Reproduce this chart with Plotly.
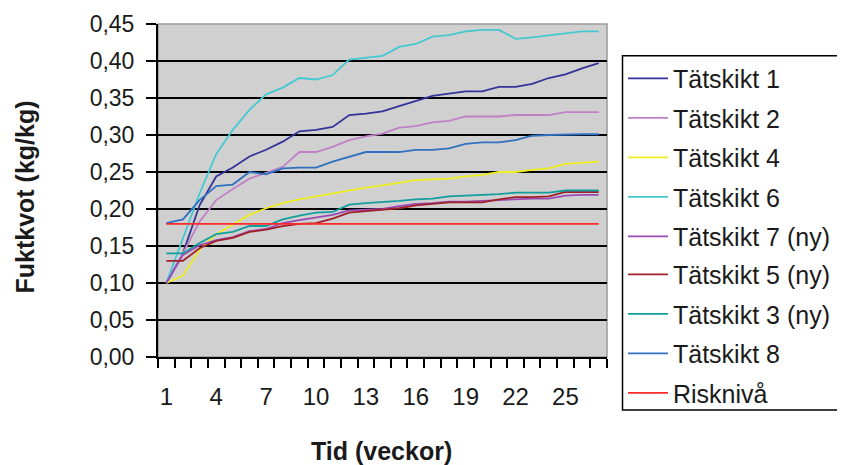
import plotly.graph_objects as go

weeks = list(range(1, 28))
tick_weeks = [1, 4, 7, 10, 13, 16, 19, 22, 25]
y_ticks = [0.00, 0.05, 0.10, 0.15, 0.20, 0.25, 0.30, 0.35, 0.40, 0.45]

t1 = [0.100, 0.140, 0.205, 0.244, 0.256, 0.271, 0.280, 0.291, 0.305, 0.307, 0.311, 0.327, 0.329, 0.332,
      0.339, 0.346, 0.353, 0.356, 0.359, 0.359, 0.365, 0.365, 0.369, 0.377, 0.382, 0.390, 0.397]
t2 = [0.100, 0.140, 0.183, 0.212, 0.227, 0.241, 0.249, 0.257, 0.277, 0.277, 0.284, 0.293, 0.298, 0.302,
      0.310, 0.312, 0.317, 0.319, 0.325, 0.325, 0.325, 0.327, 0.327, 0.327, 0.331, 0.331, 0.331]
t4 = [0.100, 0.110, 0.145, 0.166, 0.179, 0.192, 0.201, 0.208, 0.213, 0.217, 0.221, 0.226, 0.229, 0.232,
      0.236, 0.239, 0.240, 0.241, 0.244, 0.246, 0.250, 0.250, 0.253, 0.255, 0.261, 0.263, 0.264]
t6 = [0.100, 0.160, 0.221, 0.274, 0.307, 0.334, 0.355, 0.364, 0.377, 0.375, 0.381, 0.402, 0.405, 0.407,
      0.419, 0.423, 0.433, 0.435, 0.440, 0.442, 0.442, 0.430, 0.432, 0.435, 0.438, 0.440, 0.440]
t7 = [0.100, 0.138, 0.151, 0.158, 0.162, 0.170, 0.173, 0.181, 0.185, 0.189, 0.192, 0.198, 0.199, 0.200,
      0.204, 0.207, 0.208, 0.210, 0.210, 0.211, 0.213, 0.214, 0.214, 0.214, 0.218, 0.219, 0.219]
t5 = [0.130, 0.130, 0.147, 0.157, 0.161, 0.169, 0.172, 0.177, 0.180, 0.181, 0.187, 0.195, 0.197, 0.199,
      0.201, 0.205, 0.207, 0.209, 0.209, 0.209, 0.213, 0.216, 0.216, 0.217, 0.223, 0.223, 0.223]
t3 = [0.140, 0.140, 0.154, 0.166, 0.169, 0.177, 0.177, 0.186, 0.191, 0.195, 0.196, 0.206, 0.208, 0.209,
      0.211, 0.213, 0.214, 0.217, 0.218, 0.218, 0.220, 0.222, 0.222, 0.222, 0.225, 0.225, 0.225]
t8 = [0.181, 0.186, 0.212, 0.231, 0.233, 0.250, 0.247, 0.255, 0.256, 0.256, 0.264, 0.271, 0.277, 0.277,
      0.277, 0.280, 0.280, 0.282, 0.288, 0.290, 0.290, 0.293, 0.299, 0.300, 0.301, 0.301, 0.301]
risk = [0.18] * 27

series = [
    ("Tätskikt 1", t1, "#33339a"),
    ("Tätskikt 2", t2, "#c080c6"),
    ("Tätskikt 4", t4, "#eeee20"),
    ("Tätskikt 6", t6, "#44c8d2"),
    ("Tätskikt 7 (ny)", t7, "#9a4ab4"),
    ("Tätskikt 5 (ny)", t5, "#a0202a"),
    ("Tätskikt 3 (ny)", t3, "#129e9e"),
    ("Tätskikt 8", t8, "#3070c0"),
    ("Risknivå", risk, "#ff2a2a"),
]

FONT = "Liberation Sans, Arial, sans-serif"

# The page body has an 8px default margin, so the figure is drawn 8px in/down.
OFF = 8
W, H = 845 - OFF, 465 - OFF
L, R, T, B = 158 - OFF, 607 - OFF, 24 - OFF, 357 - OFF
PW, PH = R - L, B - T


def px_x(x):
    return (x - OFF - L) / PW


def px_y(y):
    return (B - (y - OFF)) / PH


fig = go.Figure()
for i, (name, vals, col) in enumerate(series):
    fig.add_trace(go.Scatter(x=weeks, y=vals, mode="lines", name=name,
                             legendgroup=f"g{i}",
                             legend="legend" if i < 5 else "legend2",
                             line=dict(color=col, width=1.8)))

leg_common = dict(
    xanchor="left", yanchor="top",
    bgcolor="rgba(0,0,0,0)", borderwidth=0,
    font=dict(family=FONT, size=25, color="#1a1a1a"),
    traceorder="grouped", tracegroupgap=4, itemwidth=40,
)
item_step = 39.2
first_center = 78.3
top_pad = 22.75

fig.update_layout(
    width=W, height=H,
    margin=dict(l=L, r=W - R, t=T, b=H - B, pad=0, autoexpand=False),
    paper_bgcolor="white",
    plot_bgcolor="#d0d0d0",
    separators=",.",
    font=dict(family=FONT, color="#1a1a1a"),
    showlegend=True,
    legend=dict(x=px_x(623), y=px_y(first_center - top_pad), **leg_common),
    legend2=dict(x=px_x(623), y=px_y(first_center + 5 * item_step - top_pad), **leg_common),
    xaxis=dict(
        range=[0.5, 27.5],
        tickmode="array", tickvals=tick_weeks, ticktext=[str(t) for t in tick_weeks],
        ticks="", ticklabelstandoff=17,
        tickfont=dict(family=FONT, size=24, color="#1a1a1a"),
        showgrid=False, zeroline=False,
        showline=True, linecolor="black", linewidth=2,
        minor=dict(tickmode="linear", tick0=0.5, dtick=1, ticks="outside",
                   ticklen=9, tickcolor="black", tickwidth=1.5, showgrid=False),
        fixedrange=True,
    ),
    yaxis=dict(
        range=[0, 0.45],
        tickmode="array", tickvals=y_ticks, tickformat=".2f",
        ticks="outside", ticklen=10, tickcolor="black", tickwidth=1.5,
        ticklabelstandoff=7,
        tickfont=dict(family=FONT, size=23, color="#1a1a1a"),
        showgrid=False, zeroline=False,
        showline=True, linecolor="black", linewidth=2,
        minor=dict(tickmode="array", tickvals=y_ticks[1:-1], ticks="",
                   showgrid=True, gridcolor="black", gridwidth=2),
        fixedrange=True,
    ),
    shapes=[
        dict(type="rect", xref="paper", yref="paper", x0=0, x1=1, y0=0, y1=1,
             line=dict(color="#9a9a9a", width=1.5), layer="below"),
        dict(type="rect", xref="paper", yref="paper",
             x0=px_x(622.5), x1=px_x(870), y0=px_y(410), y1=px_y(55.7),
             line=dict(color="black", width=1.5), fillcolor="rgba(0,0,0,0)", layer="above"),
    ],
    annotations=[
        dict(text="<b>Fuktkvot (kg/kg)</b>", xref="paper", yref="paper",
             x=px_x(24), y=px_y(197.5), textangle=-90,
             xanchor="center", yanchor="middle", showarrow=False,
             font=dict(family=FONT, size=25, color="#1a1a1a")),
        dict(text="<b>Tid (veckor)</b>", xref="paper", yref="paper",
             x=px_x(381), y=px_y(451),
             xanchor="center", yanchor="middle", showarrow=False,
             font=dict(family=FONT, size=25, color="#1a1a1a")),
    ],
)

fig.write_html("out.html")
